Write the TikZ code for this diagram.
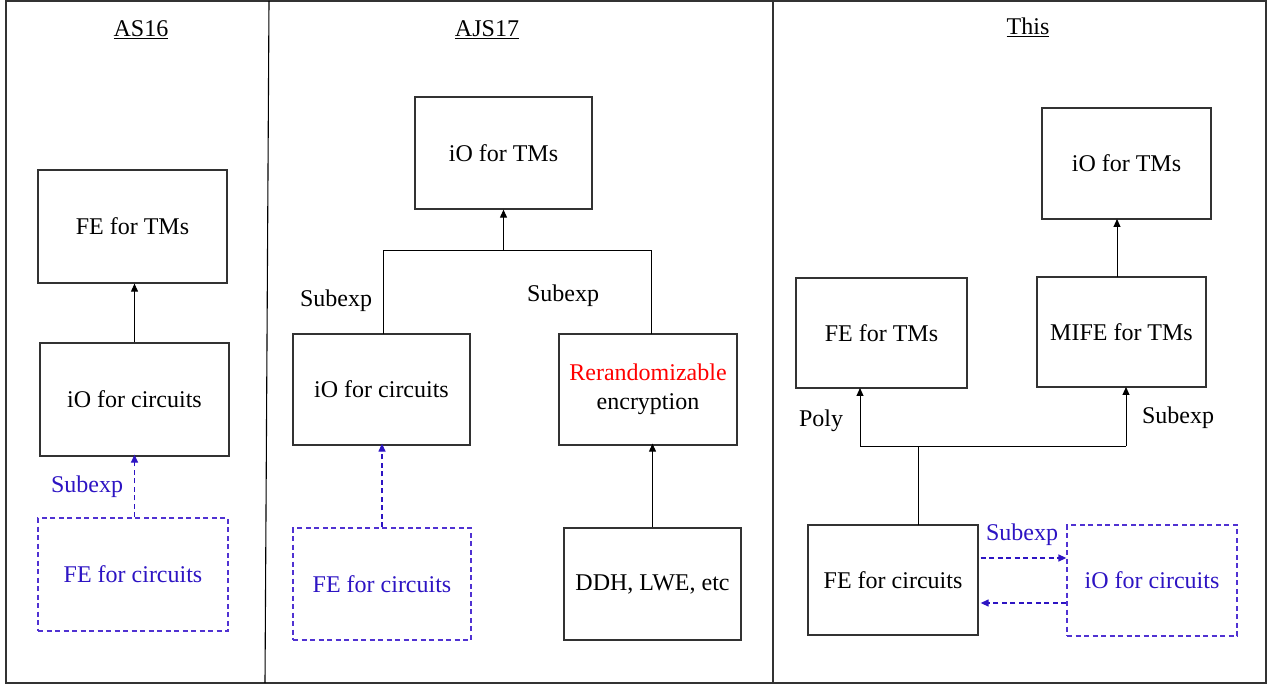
\documentclass[tikz,border=0pt]{standalone}
\usepackage{fontspec}
\setmainfont{Liberation Serif}
\usetikzlibrary{arrows.meta}
\definecolor{txtblue}{RGB}{45,20,195}
\definecolor{dashblue}{RGB}{80,50,210}
\definecolor{linegray}{RGB}{50,50,50}
\begin{document}
\begin{tikzpicture}[x=1pt,y=-1pt,
  font=\fontsize{24}{29}\selectfont,
  box/.style={draw=linegray, line width=1.3pt, inner sep=0pt, align=center},
  dbox/.style={draw=dashblue, line width=1.3pt, dash pattern=on 5pt off 3.5pt, inner sep=0pt, align=center, text=txtblue},
  conn/.style={draw=black, line width=1pt},
  arr/.style={conn, -{Triangle[length=8pt,width=7pt]}},
  darr/.style={draw=txtblue, line width=1.3pt, dash pattern=on 5pt off 3.5pt, -{Triangle[length=8pt,width=7pt]}},
  lbl/.style={inner sep=0pt},
  blbl/.style={inner sep=0pt, text=txtblue},
  hdr/.style={inner sep=0pt}]
\useasboundingbox (0,0) rectangle (1280,684);
% frame and dividers
\draw[linegray, line width=1.3pt] (6,1) rectangle (1266,683);
\draw[black, line width=1.1pt] (269,1) -- (265,683);
\draw[linegray, line width=1.1pt] (773,1) -- (773,683);

% ---------- AS16 ----------
\node[hdr] (h1) at (141,30) {\underline{AS16}};
\node[box, minimum width=189, minimum height=113] (fetm1) at (132.5,226.5) {FE for TMs};
\node[box, minimum width=189, minimum height=113] (ioc1) at (134.5,399.5) {iO for circuits};
\node[dbox, minimum width=190, minimum height=113] (fec1) at (133,574.5) {FE for circuits};
\draw[arr] (ioc1.north) -- (ioc1.north |- fetm1.south);
\draw[darr] (fec1.north -| ioc1.south) -- ([yshift=2]ioc1.south);
\node[blbl] (s1) at (87,487) {Subexp};

% ---------- AJS17 ----------
\node[hdr] (h2) at (487,30) {\underline{AJS17}};
\node[box, minimum width=177, minimum height=112] (iotm2) at (503.5,153) {iO for TMs};
\node[box, minimum width=177, minimum height=111] (ioc2) at (381.5,389.5) {iO for circuits};
\node[box, minimum width=178, minimum height=111] (rr2) at (648,389.5) {{\color{red}Rerandomizable}\\encryption};
\node[dbox, minimum width=178, minimum height=112] (fec2) at (382,584) {FE for circuits};
\node[box, minimum width=177, minimum height=112] (ddh2) at (652.5,584) {DDH, LWE, etc};
\coordinate (j2) at (503.5,251);
\coordinate (j2l) at (383,251);
\coordinate (j2r) at (651,251);
\draw[arr] (j2) -- (iotm2.south);
\draw[conn] (383,334) -- (j2l) -- (j2r) -- (651,334);
\node[lbl] (s2a) at (336,301) {Subexp};
\node[lbl] (s2b) at (563,296) {Subexp};
\draw[darr] (fec2.north) -- ([yshift=2]fec2.north |- ioc2.south);
\draw[arr] (ddh2.north) -- ([yshift=2]ddh2.north |- rr2.south);

% ---------- This ----------
\node[hdr] (h3) at (1028,27) {\underline{This}};
\node[box, minimum width=169, minimum height=111] (iotm3) at (1126.5,163.5) {iO for TMs};
\node[box, minimum width=169, minimum height=110] (mife3) at (1121.5,332) {MIFE for TMs};
\node[box, minimum width=171, minimum height=110] (fetm3) at (881.5,333) {FE for TMs};
\node[box, minimum width=170, minimum height=110] (fec3) at (893,580) {FE for circuits};
\node[dbox, minimum width=170, minimum height=111] (ioc3) at (1152,580.5) {iO for circuits};
\draw[arr] (1117,277) -- (1117,219);
\coordinate (j3l) at (860,446);
\coordinate (j3r) at (1126,446);
\coordinate (j3m) at (918,446);
\draw[conn] (j3l) -- (j3r);
\draw[arr] (j3l) -- (860,388);
\draw[arr] (j3r) -- (1126,387);
\draw[conn] (j3m) -- (918,525);
\node[lbl] (p3) at (821,421) {Poly};
\node[lbl] (s3a) at (1178,418) {Subexp};
\draw[darr] ([xshift=2]fec3.east |- 0,558) -- (ioc3.west |- 0,558);
\draw[darr] (ioc3.west |- 0,603) -- ([xshift=2]fec3.east |- 0,603);
\node[blbl] (s3b) at (1022,535) {Subexp};
\end{tikzpicture}
\end{document}
